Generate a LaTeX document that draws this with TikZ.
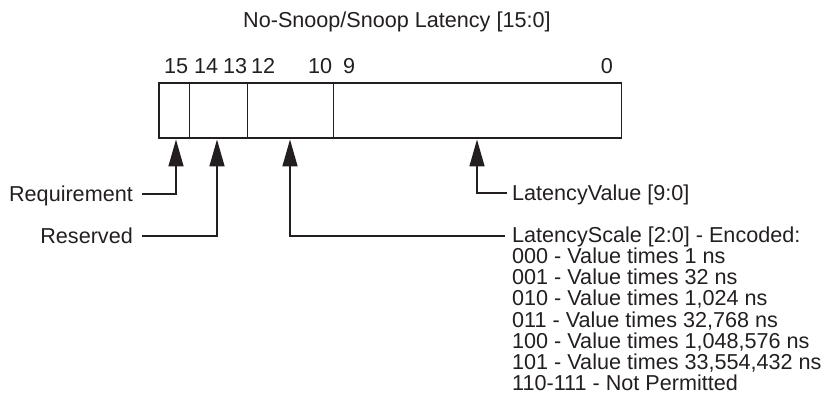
\documentclass[tikz,border=0pt]{standalone}
\usepackage{fontspec}
\setmainfont{Liberation Sans}
\usetikzlibrary{arrows.meta}
\definecolor{ink}{HTML}{231F20}
\begin{document}
\begin{tikzpicture}[x=1pt,y=-1pt,
  lbl/.style={font=\fontsize{21.6}{21.1}\selectfont, inner sep=0pt, text=ink},
  conn/.style={draw=ink, line width=1.6pt, -{Triangle[length=27pt,width=15pt]}},
  boxline/.style={draw=ink, line width=1.5pt},
  divline/.style={draw=ink, line width=1pt}]
\path[use as bounding box] (0,0) rectangle (828,395);
% title
\node[lbl, anchor=base west] (title) at (243,28) {No-Snoop/Snoop Latency [15:0]};
% bit numbers
\node[lbl, anchor=base west] (b15) at (164,73.3) {15};
\node[lbl, anchor=base west] (b14) at (194,73.3) {14};
\node[lbl, anchor=base west] (b13) at (223,73.3) {13};
\node[lbl, anchor=base west] (b12) at (251,73.3) {12};
\node[lbl, anchor=base west] (b10) at (308,73.3) {10};
\node[lbl, anchor=base west] (b9) at (343,73.3) {9};
\node[lbl, anchor=base] (b0) at (607,73.3) {0};
% register box
\draw[divline] (189,83) -- (189,138);
\draw[divline] (247,83) -- (247,138);
\draw[divline] (333,83) -- (333,138);
\draw[boxline] (159,83) rectangle (621.5,138);
% field labels
\node[lbl, anchor=base east] (req) at (133,201.5) {Requirement};
\node[lbl, anchor=base east] (res) at (133,243.5) {Reserved};
\node[lbl, anchor=base west] (val) at (512,200.5) {LatencyValue [9:0]};
\node[lbl, anchor=north west, align=left] (scl) at (512,226.8) {LatencyScale [2:0] - Encoded:\\
000 - Value times 1 ns\\
001 - Value times 32 ns\\
010 - Value times 1,024 ns\\
011 - Value times 32,768 ns\\
100 - Value times 1,048,576 ns\\
101 - Value times 33,554,432 ns\\
110-111 - Not Permitted};
% arrow tips at the bottom of the box
\coordinate (t15) at (176,139.5);
\coordinate (t14) at (217,139.5);
\coordinate (t12) at (290,139.5);
\coordinate (t9) at (477,139.5);
% connector start points
\coordinate (sreq) at (142,194);
\coordinate (sres) at (142,236);
\coordinate (sval) at (507,193);
\coordinate (sscl) at (505,236);
\draw[conn] (sreq) -| (t15);
\draw[conn] (sres) -| (t14);
\draw[conn] (sscl) -| (t12);
\draw[conn] (sval) -| (t9);
\end{tikzpicture}
\end{document}
